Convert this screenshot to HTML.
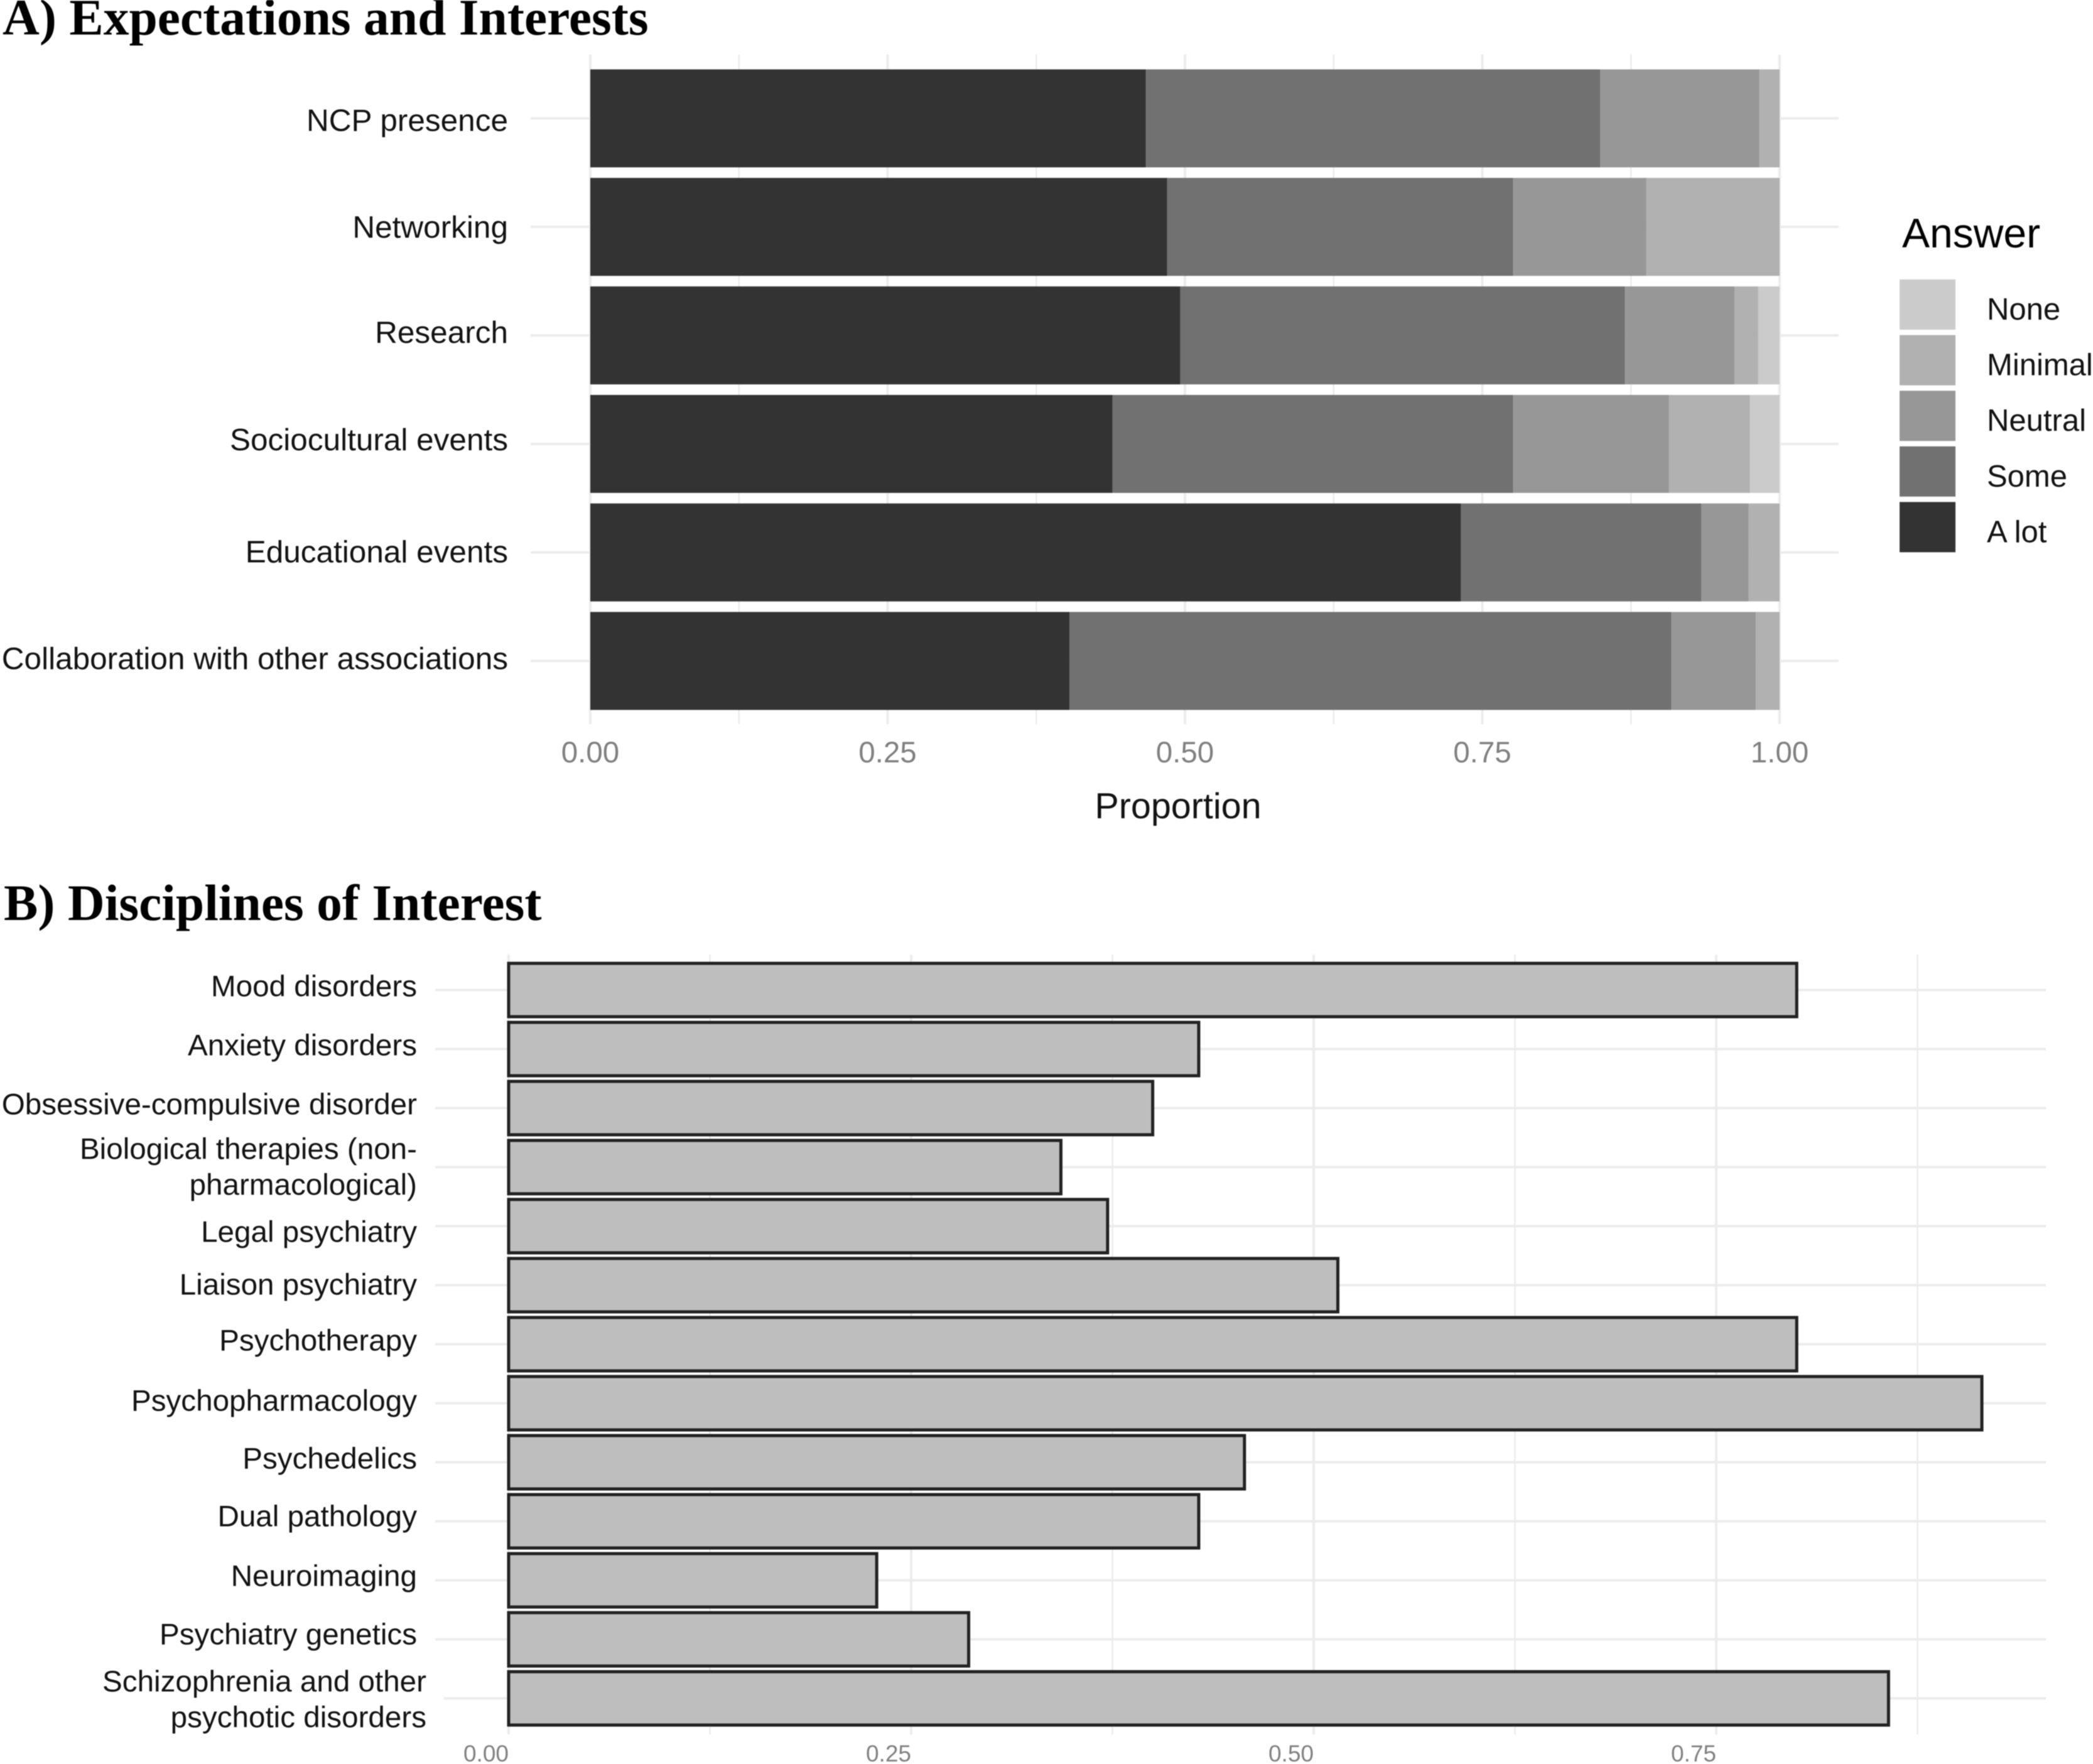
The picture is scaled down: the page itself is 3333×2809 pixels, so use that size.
<!DOCTYPE html>
<html lang="en">
<head>
<meta charset="utf-8">
<title>Expectations, Interests and Disciplines of Interest</title>
<style>
html,body{margin:0;padding:0;background:#fff;width:3333px;height:2809px;overflow:hidden}
svg{display:block;position:absolute;left:0;top:0;filter:blur(0.7px)}
text{font-family:"Liberation Sans",Arial,sans-serif}
.title{font-family:"Liberation Serif","Times New Roman",serif;font-weight:bold;font-size:81.5px;fill:#000}
</style>
</head>
<body>
<svg id="figure" xmlns="http://www.w3.org/2000/svg" width="3333" height="2809" viewBox="0 0 3333 2809">
  <rect x="0" y="0" width="3333" height="2809" fill="#ffffff"/>
  <text class="title" x="4" y="55">A) Expectations and Interests</text>
  <text class="title" x="6" y="1465">B) Disciplines of Interest</text>
  <g id="panel-a"></g>
  <g id="panel-b"></g>
</svg>
<script>
// ---- Panel A data ----
const aCategories = ["NCP presence","Networking","Research","Sociocultural events","Educational events","Collaboration with other associations"];
const aAnswers = ["A lot","Some","Neutral","Minimal","None"];
const aLot     = [0.467,0.485,0.496,0.439,0.732,0.403];
const aSome    = [0.382,0.291,0.374,0.337,0.202,0.506];
const aNeutral = [0.134,0.112,0.092,0.131,0.040,0.071];
const aMinimal = [0.017,0.112,0.020,0.068,0.026,0.020];
const aNone    = [0.000,0.000,0.018,0.025,0.000,0.000];
const aTicks = [0,0.25,0.5,0.75,1];
const aTickLabels = ["0.00","0.25","0.50","0.75","1.00"];
const aMinorTicks = [0.125,0.375,0.625,0.875];
const legendOrder = ["None","Minimal","Neutral","Some","A lot"];

// ---- Panel B data ----
const bCategories = ["Mood disorders","Anxiety disorders","Obsessive-compulsive disorder","Biological therapies (non-\npharmacological)","Legal psychiatry","Liaison psychiatry","Psychotherapy","Psychopharmacology","Psychedelics","Dual pathology","Neuroimaging","Psychiatry genetics","Schizophrenia and other\npsychotic disorders"];
const bValues = [0.800,0.4286,0.400,0.343,0.372,0.515,0.800,0.915,0.457,0.4286,0.2286,0.2857,0.857];
const bTicks = [0,0.25,0.5,0.75];
const bTickLabels = ["0.00","0.25","0.50","0.75"];
const bMinorTicks = [0.125,0.375,0.625,0.875];

// ---- Styling ----
const answerFill = {"A lot":"#333333","Some":"#717171","Neutral":"#979797","Minimal":"#b1b1b1","None":"#cbcbcb"};
const gridColor = "#ececec";
const SVGNS = "http://www.w3.org/2000/svg";

function make(parent, tag, attrs, text){
  const e = document.createElementNS(SVGNS, tag);
  for (const k in attrs) e.setAttribute(k, attrs[k]);
  if (text !== undefined) e.textContent = text;
  parent.appendChild(e);
  return e;
}
function slug(s){ return s.toLowerCase().replace(/[^a-z0-9]+/g,'-').replace(/^-|-$/g,''); }

// ---- Panel A scales ----
const ax = v => 940 + 1894 * v;
const ay = i => 188.5 + 172.8 * i;
const aBarH = 156;
const aLabelDy = [20,17,12,10,16,13];

(function drawA(){
  const root = document.getElementById('panel-a');
  aMinorTicks.forEach(function(t){
    const l = make(root,'line',{x1:ax(t),x2:ax(t),y1:87,y2:1153,stroke:gridColor,'stroke-width':2.5});
    
    
  });
  aTicks.forEach(function(t){
    const l = make(root,'line',{x1:ax(t),x2:ax(t),y1:87,y2:1153,stroke:gridColor,'stroke-width':4});
    
    
  });
  aCategories.forEach(function(c,i){
    const l = make(root,'line',{x1:845,x2:2928,y1:ay(i),y2:ay(i),stroke:gridColor,'stroke-width':4});
    
    
  });
  const series = [aLot,aSome,aNeutral,aMinimal,aNone];
  aCategories.forEach(function(c,i){
    let start = 0;
    series.forEach(function(vals,s){
      const v = vals[i];
      if (v > 0) {
        const r = make(root,'rect',{x:ax(start),y:ay(i)-aBarH/2,width:ax(start+v)-ax(start),height:aBarH,fill:answerFill[aAnswers[s]]});
        
        
      }
      start += v;
    });
    const t = make(root,'text',{x:809,y:ay(i)+aLabelDy[i],'text-anchor':'end','font-size':49.5,fill:'#111'},c);
    
    
  });
  aTicks.forEach(function(t,i){
    const e = make(root,'text',{x:ax(t),y:1214,'text-anchor':'middle','font-size':47.5,fill:'#7f7f7f'},aTickLabels[i]);
    
    
  });
  const xt = make(root,'text',{x:1876,y:1303,'text-anchor':'middle','font-size':57.5,fill:'#111'},'Proportion');
  
  

  const legendTitle = make(root,'text',{x:3029,y:394,'font-size':66,fill:'#000'},'Answer');
  
  
  legendOrder.forEach(function(name,i){
    const top = 445 + 88.6 * i;
    const sw = make(root,'rect',{x:3025,y:top,width:89,height:80,fill:answerFill[name]});
    
    
    const lab = make(root,'text',{x:3164,y:top+64,'font-size':49,fill:'#111'},name);
    
    
  });
})();

// ---- Panel B scales ----
const bx = v => 810 + 2564 * v;
const by = i => 1576.5 + 94 * i;
const bBarH = 85;
const bLabelDy = [10,10,10,-13,25,15,10,12,10,8,9,8,-11];

(function drawB(){
  const root = document.getElementById('panel-b');
  bMinorTicks.forEach(function(t){
    const l = make(root,'line',{x1:bx(t),x2:bx(t),y1:1520,y2:2762,stroke:gridColor,'stroke-width':2.5});
    
    
  });
  bTicks.forEach(function(t){
    const l = make(root,'line',{x1:bx(t),x2:bx(t),y1:1520,y2:2762,stroke:gridColor,'stroke-width':4});
    
    
  });
  bCategories.forEach(function(c,i){
    const multi = i === bCategories.length - 1;
    const l = make(root,'line',{x1:multi?707:693,x2:3258,y1:by(i),y2:by(i),stroke:gridColor,'stroke-width':4});
    
    
  });
  bCategories.forEach(function(c,i){
    const r = make(root,'rect',{x:bx(0),y:by(i)-bBarH/2,width:bx(bValues[i])-bx(0),height:bBarH,fill:'#bebebe',stroke:'#222222','stroke-width':5});
    
    
    const last = i === bCategories.length - 1;
    c.split('\n').forEach(function(line,k){
      const t = make(root,'text',{x:last?679:664,y:by(i)+bLabelDy[i]+57*k,'text-anchor':'end','font-size':47.6,fill:'#111'},line);
      
      
    });
  });
  bTicks.forEach(function(t,i){
    const e = make(root,'text',{x:bx(t),y:2805,'text-anchor':'end','font-size':37,fill:'#7f7f7f'},bTickLabels[i]);
    
    
  });
})();
</script>
</body>
</html>
